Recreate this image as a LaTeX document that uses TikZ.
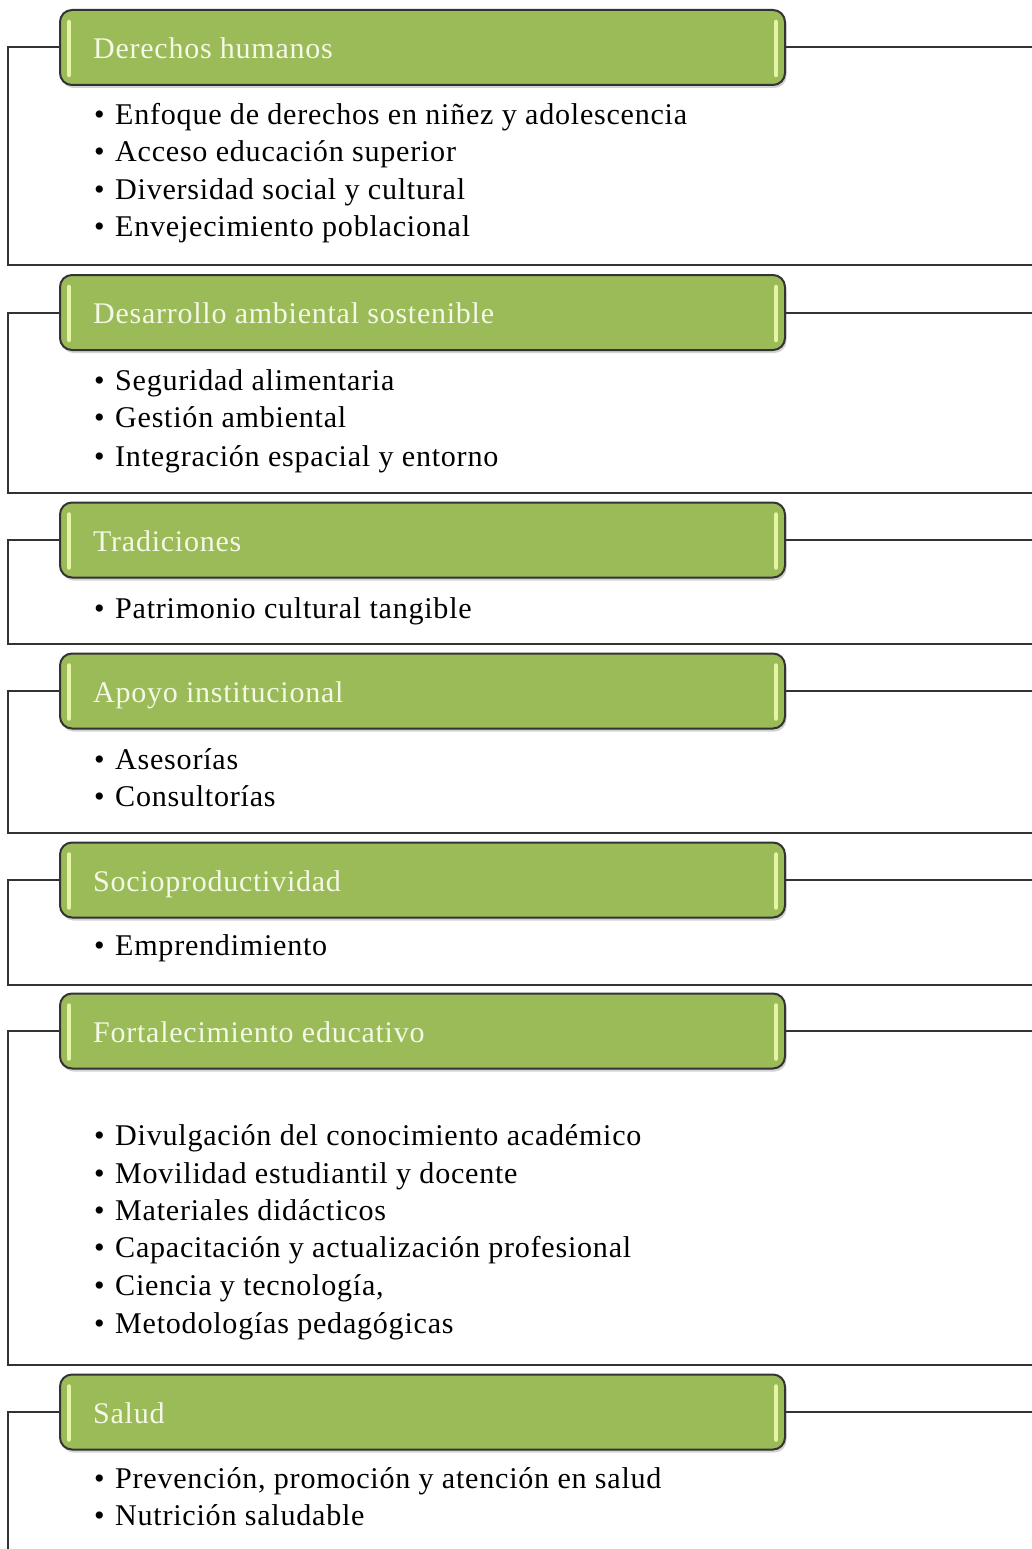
\documentclass[tikz,border=0pt]{standalone}
\usepackage{fontspec}
\setmainfont{Liberation Serif}[LetterSpace=2.5]
\usetikzlibrary{shadows}
\definecolor{hdrgreen}{HTML}{9BBB59}
\definecolor{hdrline}{HTML}{333333}
\definecolor{hilite}{HTML}{E6F4A6}
\definecolor{hdrtext}{HTML}{F4F8E6}
\newcommand\mksec[4]{% #1 name, #2 centre y, #3 bottom y, #4 title
  \coordinate (#1bl) at (8,#3);
  \coordinate (#1br) at (1040,#3);
  \coordinate (#1r) at (1040,#2);
  \node[hdrbox] (#1) at (422.5,#2) {};
  \draw[frameline] (#1.west) -| (#1bl) -- (#1br);
  \draw[frameline] (#1.east) -- (#1r);
  \draw[hl] ([xshift=10pt,yshift=-13pt]#1.north west) -- ([xshift=10pt,yshift=11pt]#1.south west);
  \draw[hl] ([xshift=-10pt,yshift=-13pt]#1.north east) -- ([xshift=-10pt,yshift=11pt]#1.south east);
  \node[hdrtxt] (#1t) at (93,#2+11) {#4};
}
\newcommand\mkitem[3]{\node[itemtxt] (#1) at (94,#2+0.5) {\makebox[21pt][l]{•}#3};}
\begin{document}
\begin{tikzpicture}[x=1pt,y=-1pt,
  hdrbox/.style={draw=hdrline, line width=2pt, fill=hdrgreen, rounded corners=12pt,
    minimum width=725pt, minimum height=75pt, inner sep=0pt,
    drop shadow={shadow xshift=1.5pt, shadow yshift=-3pt, opacity=0.35}},
  hdrtxt/.style={anchor=base west, inner sep=0pt, text=hdrtext, font=\fontsize{30}{34}\selectfont},
  itemtxt/.style={anchor=base west, inner sep=0pt, text=black, font=\fontsize{30.1}{34}\selectfont},
  frameline/.style={draw=hdrline, line width=2pt},
  hl/.style={draw=hilite, line width=4.5pt, line cap=round}]
\useasboundingbox (0,0) rectangle (1032,1549);
\fill[white] (0,0) rectangle (1032,1549);

\mksec{s1}{47.5}{265}{Derechos humanos}
\mkitem{s1a}{124}{Enfoque de derechos en niñez y adolescencia}
\mkitem{s1b}{161}{Acceso educación superior}
\mkitem{s1c}{199}{Diversidad social y cultural}
\mkitem{s1d}{236}{Envejecimiento poblacional}

\mksec{s2}{312.5}{493}{Desarrollo ambiental sostenible}
\mkitem{s2a}{390}{Seguridad alimentaria}
\mkitem{s2b}{427}{Gestión ambiental}
\mkitem{s2c}{466}{Integración espacial y entorno}

\mksec{s3}{540}{643.5}{Tradiciones}
\mkitem{s3a}{618}{Patrimonio cultural tangible}

\mksec{s4}{691}{833}{Apoyo institucional}
\mkitem{s4a}{769}{Asesorías}
\mkitem{s4b}{806}{Consultorías}

\mksec{s5}{880}{984.5}{Socioproductividad}
\mkitem{s5a}{955}{Emprendimiento}

\mksec{s6}{1031}{1365}{Fortalecimiento educativo}
\mkitem{s6a}{1145}{Divulgación del conocimiento académico}
\mkitem{s6b}{1183}{Movilidad estudiantil y docente}
\mkitem{s6c}{1220}{Materiales didácticos}
\mkitem{s6d}{1257}{Capacitación y actualización profesional}
\mkitem{s6e}{1295}{Ciencia y tecnología,}
\mkitem{s6f}{1333}{Metodologías pedagógicas}

\mksec{s7}{1412}{1570}{Salud}
\mkitem{s7a}{1488}{Prevención, promoción y atención en salud}
\mkitem{s7b}{1525}{Nutrición saludable}
\end{tikzpicture}
\end{document}
